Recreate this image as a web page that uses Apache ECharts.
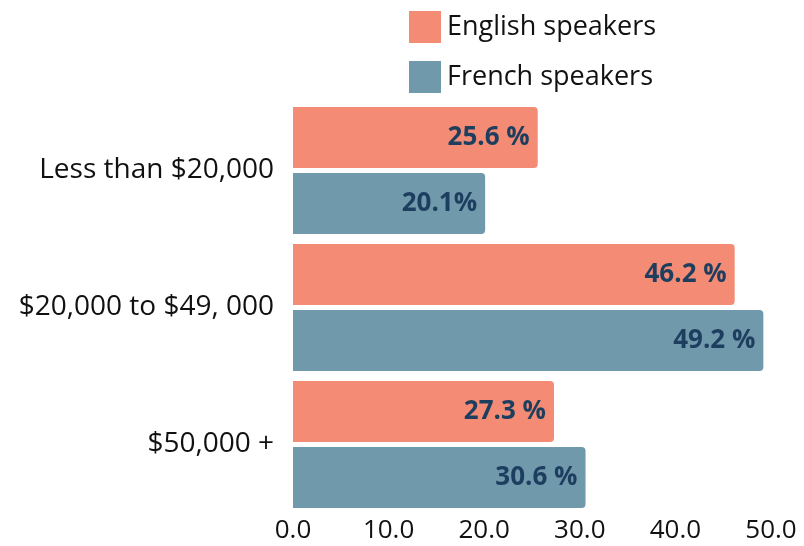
<!DOCTYPE html>
<html><head><meta charset="utf-8">
<script src="https://cdn.jsdelivr.net/npm/echarts@6/dist/echarts.min.js"></script>
<style>html,body{margin:0;padding:0;background:#fff}#c{width:804px;height:546px}</style>
</head><body><div id="c"></div>
<script>
const categories = ['Less than $20,000', '$20,000 to $49, 000', '$50,000 +'];
const seriesNames = ['English speakers', 'French speakers'];
const englishValues = [25.6, 46.2, 27.3];
const frenchValues = [20.1, 49.2, 30.6];
const englishLabels = ['25.6 %', '46.2 %', '27.3 %'];
const frenchLabels = ['20.1%', '49.2 %', '30.6 %'];
const xTicks = [0, 10, 20, 30, 40, 50];

const FONT = '"Open Sans", "Noto Sans", sans-serif';
const chart = echarts.init(document.getElementById('c'), null, {renderer: 'canvas'});
function mkSeries(name, vals, labels, color) {
  return {
    name: name, type: 'bar', data: vals,
    barWidth: 61, barGap: '8%',
    itemStyle: {color: color, borderRadius: [0, 4, 4, 0]},
    label: {
      show: true, position: 'insideRight', distance: 8,
      formatter: p => labels[p.dataIndex],
      color: '#1d3e5e', fontFamily: FONT, fontWeight: 'bold', fontSize: 26
    }
  };
}
chart.setOption({
  animation: false,
  legend: {
    orient: 'vertical', left: 404, top: 6, itemWidth: 32, itemHeight: 32, itemGap: 18,
    icon: 'rect',
    textStyle: {fontFamily: FONT, fontSize: 27, color: '#111', padding: [0, 0, 0, 1]},
    data: seriesNames
  },
  grid: {left: 293, right: 33, top: 102, bottom: 33, containLabel: false},
  xAxis: {
    type: 'value', min: xTicks[0], max: xTicks[xTicks.length - 1], interval: 10,
    axisLine: {show: false}, axisTick: {show: false}, splitLine: {show: false},
    axisLabel: {formatter: v => v.toFixed(1), fontFamily: FONT, fontSize: 26, color: '#111', margin: 5}
  },
  yAxis: {
    type: 'category', data: categories, inverse: true,
    axisLine: {show: false}, axisTick: {show: false},
    axisLabel: {fontFamily: FONT, fontSize: 28, color: '#111', margin: 19}
  },
  series: [
    mkSeries(seriesNames[0], englishValues, englishLabels, '#f48b74'),
    mkSeries(seriesNames[1], frenchValues, frenchLabels, '#7099ab')
  ]
});
</script></body></html>
